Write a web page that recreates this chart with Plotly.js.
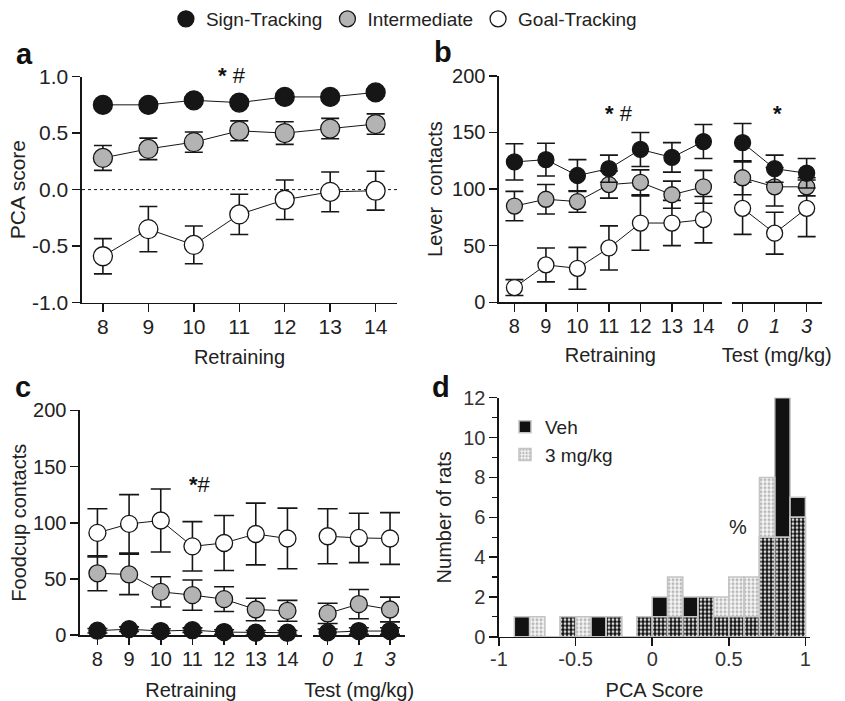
<!DOCTYPE html>
<html><head><meta charset="utf-8">
<script src="https://cdn.plot.ly/plotly-3.0.1.min.js"></script>
<style>body{margin:0;background:#fff}#chart{width:845px;height:701px}</style>
</head><body><div id="chart"></div>
<script>
// ---------- data ----------
const sessions = [8, 9, 10, 11, 12, 13, 14];
const testDoses = ['0', '1', '3'];
const groupNames = ['Sign-Tracking', 'Intermediate', 'Goal-Tracking'];

// (a) PCA score during retraining
const pcaST = [0.75, 0.75, 0.79, 0.77, 0.82, 0.82, 0.86];
const pcaSTErr = [0.03, 0.03, 0.03, 0.03, 0.03, 0.03, 0.03];
const pcaInt = [0.28, 0.36, 0.42, 0.52, 0.50, 0.54, 0.58];
const pcaIntErr = [0.11, 0.095, 0.09, 0.088, 0.10, 0.09, 0.09];
const pcaGT = [-0.59, -0.35, -0.49, -0.22, -0.09, -0.02, -0.01];
const pcaGTErr = [0.156, 0.20, 0.167, 0.178, 0.175, 0.176, 0.172];

// (b) Lever contacts
const leverST = [124, 126, 112, 118, 135, 128, 142];
const leverSTErr = [16, 14.5, 14, 12, 15, 13, 15];
const leverInt = [85, 91, 89, 104, 106, 95, 102];
const leverIntErr = [13, 13, 9.5, 12, 11, 12, 14.5];
const leverGT = [13, 33, 30, 48, 70, 70, 73];
const leverGTErr = [7, 15, 18.5, 19.5, 24, 20, 20.5];
const leverTestST = [141, 118, 114];
const leverTestSTErr = [17, 12, 13];
const leverTestInt = [110, 102, 102];
const leverTestIntErr = [15, 17, 8];
const leverTestGT = [83, 61, 83];
const leverTestGTErr = [23, 18.5, 25];

// (c) Foodcup contacts
const foodST = [3.9, 5.3, 3.6, 4.4, 2.7, 2.1, 2.1];
const foodSTErr = [2, 2, 2, 2, 2, 2, 2];
const foodInt = [55, 54, 38.5, 35.6, 32, 22.8, 21.6];
const foodIntErr = [15.5, 18, 13.5, 13.5, 11, 10, 9.3];
const foodGT = [91, 99, 102, 79, 82, 90, 86];
const foodGTErr = [21.5, 26, 28, 22, 24.5, 27.5, 27];
const foodTestST = [2.4, 3.6, 3.6];
const foodTestSTErr = [3, 3, 3];
const foodTestInt = [19.3, 27.6, 22.8];
const foodTestIntErr = [9, 13, 11];
const foodTestGT = [88, 86.5, 86];
const foodTestGTErr = [24.5, 22, 23];

// (d) Histogram of PCA scores (bin centres, bin width 0.1)
const binCenters = [-0.85, -0.75, -0.65, -0.55, -0.45, -0.35, -0.25, -0.15, -0.05, 0.05, 0.15, 0.25, 0.35, 0.45, 0.55, 0.65, 0.75, 0.85, 0.95];
const vehCounts  = [1, 0, 0, 1, 0, 1, 1, 0, 1, 2, 1, 2, 2, 1, 1, 1, 5, 12, 7];
const mgCounts   = [0, 1, 0, 1, 1, 0, 1, 0, 1, 1, 3, 1, 2, 2, 3, 3, 8, 5, 6];
const histNames = ['Veh', '3 mg/kg'];

// ---------- styles ----------
const INK = '#161616';
const FILLS = ['#161616', '#b3b3b3', '#ffffff'];
const FONT = 'Arial, "Liberation Sans", Helvetica, sans-serif';

function series(x, y, err, xa, ya, fill, size, capw) {
  return {
    type: 'scatter', mode: 'lines+markers', x: x, y: y, xaxis: xa, yaxis: ya,
    line: {color: INK, width: 1},
    marker: {size: size, color: fill, line: {color: INK, width: 1.3}},
    error_y: {type: 'data', array: err, visible: true, color: INK, thickness: 1.6, width: capw},
    cliponaxis: false, showlegend: false, hoverinfo: 'skip'
  };
}

const traces = [];
// legend-only entries
groupNames.forEach((n, i) => traces.push({
  type: 'scatter', mode: 'markers', x: [null], y: [null], xaxis: 'x', yaxis: 'y',
  name: n, legend: 'legend', showlegend: true,
  marker: {size: 16, color: FILLS[i], line: {color: INK, width: 1.3}}
}));

// (a)
traces.push(series(sessions, pcaGT, pcaGTErr, 'x', 'y', FILLS[2], 19, 9));
traces.push(series(sessions, pcaInt, pcaIntErr, 'x', 'y', FILLS[1], 19, 9));
traces.push(series(sessions, pcaST, pcaSTErr, 'x', 'y', FILLS[0], 19, 9));
// (b)
traces.push(series(sessions, leverGT, leverGTErr, 'x2', 'y2', FILLS[2], 16, 9));
traces.push(series(sessions, leverInt, leverIntErr, 'x2', 'y2', FILLS[1], 16, 9));
traces.push(series(sessions, leverST, leverSTErr, 'x2', 'y2', FILLS[0], 16, 9));
traces.push(series(testDoses, leverTestGT, leverTestGTErr, 'x3', 'y2', FILLS[2], 16, 9));
traces.push(series(testDoses, leverTestInt, leverTestIntErr, 'x3', 'y2', FILLS[1], 16, 9));
traces.push(series(testDoses, leverTestST, leverTestSTErr, 'x3', 'y2', FILLS[0], 16, 9));
// (c)
traces.push(series(sessions, foodGT, foodGTErr, 'x4', 'y3', FILLS[2], 17, 10));
traces.push(series(sessions, foodInt, foodIntErr, 'x4', 'y3', FILLS[1], 17, 10));
traces.push(series(sessions, foodST, foodSTErr, 'x4', 'y3', FILLS[0], 17, 10));
traces.push(series(testDoses, foodTestGT, foodTestGTErr, 'x5', 'y3', FILLS[2], 17, 10));
traces.push(series(testDoses, foodTestInt, foodTestIntErr, 'x5', 'y3', FILLS[1], 17, 10));
traces.push(series(testDoses, foodTestST, foodTestSTErr, 'x5', 'y3', FILLS[0], 17, 10));

// (d)
const overlap = vehCounts.map((v, i) => Math.min(v, mgCounts[i]));
const barLine = {color: '#c4c4c4', width: 1.5};
traces.push({
  type: 'bar', x: binCenters, y: vehCounts, width: 0.1, xaxis: 'x6', yaxis: 'y4',
  name: histNames[0], legend: 'legend2', showlegend: true,
  marker: {color: '#111111', line: barLine}, hoverinfo: 'skip'
});
traces.push({
  type: 'bar', x: binCenters, y: mgCounts, width: 0.1, xaxis: 'x6', yaxis: 'y4',
  name: histNames[1], legend: 'legend2', showlegend: true,
  marker: {color: '#f2f2f2', line: barLine,
    pattern: {shape: '.', bgcolor: '#f6f6f6', fgcolor: '#b8b8b8', size: 4, solidity: 0.45}},
  hoverinfo: 'skip'
});
traces.push({
  type: 'bar', x: binCenters, y: overlap, width: 0.1, xaxis: 'x6', yaxis: 'y4',
  showlegend: false,
  marker: {color: '#111111', line: barLine,
    pattern: {shape: '.', bgcolor: '#111111', fgcolor: '#d8d8d8', size: 4, solidity: 0.4}},
  hoverinfo: 'skip'
});

// ---------- layout ----------
const W = 845, H = 701;
const px = v => v / W;
const py = v => 1 - v / H;
const axBase = {
  showline: true, linecolor: INK, linewidth: 1.6, ticks: 'outside', ticklen: 8,
  tickwidth: 1.5, tickcolor: INK, showgrid: false, zeroline: false, fixedrange: true,
  tickfont: {size: 20, color: '#222'}, title: {font: {size: 20, color: '#222'}}
};
function ax(o) { return Object.assign({}, JSON.parse(JSON.stringify(axBase)), o); }
function ann(text, x, y, size, color) {
  return {text: text, x: px(x), y: py(y), xref: 'paper', yref: 'paper', xanchor: 'center', yanchor: 'middle',
    showarrow: false, font: {size: size, color: color || '#111'}};
}

const layout = {
  width: W, height: H, margin: {l: 0, r: 0, t: 0, b: 0},
  paper_bgcolor: '#fff', plot_bgcolor: 'rgba(0,0,0,0)',
  font: {family: FONT, size: 20, color: '#222'},
  barmode: 'overlay', bargap: 0,
  legend: {orientation: 'h', x: 0.478, xanchor: 'center', y: 1.002, yanchor: 'top',
    font: {size: 19, color: '#222'}, itemwidth: 30, bgcolor: 'rgba(0,0,0,0)', traceorder: 'normal'},
  legend2: {x: px(505), xanchor: 'left', y: py(408), yanchor: 'top',
    font: {size: 19, color: '#222'}, bgcolor: 'rgba(0,0,0,0)', tracegroupgap: 0},
  // (a)
  xaxis: ax({domain: [px(82), px(397)], range: [7.54, 14.47], anchor: 'y', ticklabelstandoff: -3,
    tickvals: sessions, tickfont: {size: 21}, title: {text: 'Retraining', standoff: 12, font: {size: 20}}}),
  yaxis: ax({domain: [py(302), py(75.7)], range: [-1, 1], anchor: 'x',
    tickvals: [-1, -0.5, 0, 0.5, 1], ticktext: ['-1.0', '-0.5', '0.0', '0.5', '1.0'],
    tickfont: {size: 21}, title: {text: 'PCA score', standoff: 0, font: {size: 21}}}),
  // (b)
  xaxis2: ax({domain: [px(499), px(721.7)], range: [7.51, 14.58], anchor: 'y2', ticklabelstandoff: -3,
    tickvals: sessions, title: {text: 'Retraining', standoff: 12, font: {size: 20}}}),
  xaxis3: ax({domain: [px(731.7), px(821.7)], range: [-0.34, 2.47], anchor: 'y2', type: 'category', ticklabelstandoff: -3,
    tickfont: {size: 20, style: 'italic'}, title: {text: 'Test (mg/kg)', standoff: 12, font: {size: 20}}}),
  yaxis2: ax({domain: [py(301.7), py(75)], range: [0, 200], anchor: 'x2', dtick: 50,
    title: {text: 'Lever\u00a0 contacts', standoff: 4, font: {size: 20}}}),
  // (c)
  xaxis4: ax({domain: [px(80), px(301.7)], range: [7.45, 14.45], anchor: 'y3', ticklabelstandoff: -3,
    tickvals: sessions, title: {text: 'Retraining', standoff: 14, font: {size: 20}}}),
  xaxis5: ax({domain: [px(313.3), px(405)], range: [-0.46, 2.48], anchor: 'y3', type: 'category', ticklabelstandoff: -3,
    tickfont: {size: 20, style: 'italic'}, title: {text: 'Test (mg/kg)', standoff: 14, font: {size: 20}}}),
  yaxis3: ax({domain: [py(635), py(410)], range: [0, 200], anchor: 'x4', dtick: 50,
    title: {text: 'Foodcup contacts', standoff: 1, font: {size: 20}}}),
  // (d)
  xaxis6: ax({domain: [px(499), px(810)], range: [-1, 1.03], anchor: 'y4', ticklabelstandoff: -4,
    tickvals: [-1, -0.5, 0, 0.5, 1], ticktext: ['-1', '-0.5', '0', '0.5', '1'],
    tickfont: {size: 20, color: '#333'}, title: {text: 'PCA Score', standoff: 21, font: {size: 20}}}),
  yaxis4: ax({domain: [py(636.7), py(397.3)], range: [0, 12], anchor: 'x6', dtick: 2,
    tickfont: {size: 20, color: '#333'},
    minor: {dtick: 1, ticks: 'outside', ticklen: 5, tickwidth: 1.2, tickcolor: INK},
    title: {text: 'Number of rats', standoff: 6, font: {size: 20}}}),
  shapes: [
    {type: 'line', xref: 'x domain', yref: 'y', x0: 0, x1: 1, y0: 0, y1: 0,
     line: {color: INK, width: 1, dash: 'dot'}, layer: 'below'}
  ],
  annotations: [
    ann('<b>a</b>', 24, 53, 29),
    ann('<b>b</b>', 443, 51, 29),
    ann('<b>c</b>', 23, 387, 29),
    ann('<b>d</b>', 441, 387, 29),
    ann('<b>*</b> #', 232, 75, 22),
    ann('<b>*</b> #', 619, 113, 22),
    ann('<b>*</b>', 777, 113, 22),
    ann('<b>*</b>#', 200, 484, 22),
    ann('%', 738, 527, 20, '#222')
  ]
};

Plotly.newPlot('chart', traces, layout, {staticPlot: true, displayModeBar: false});
</script>
</body></html>
